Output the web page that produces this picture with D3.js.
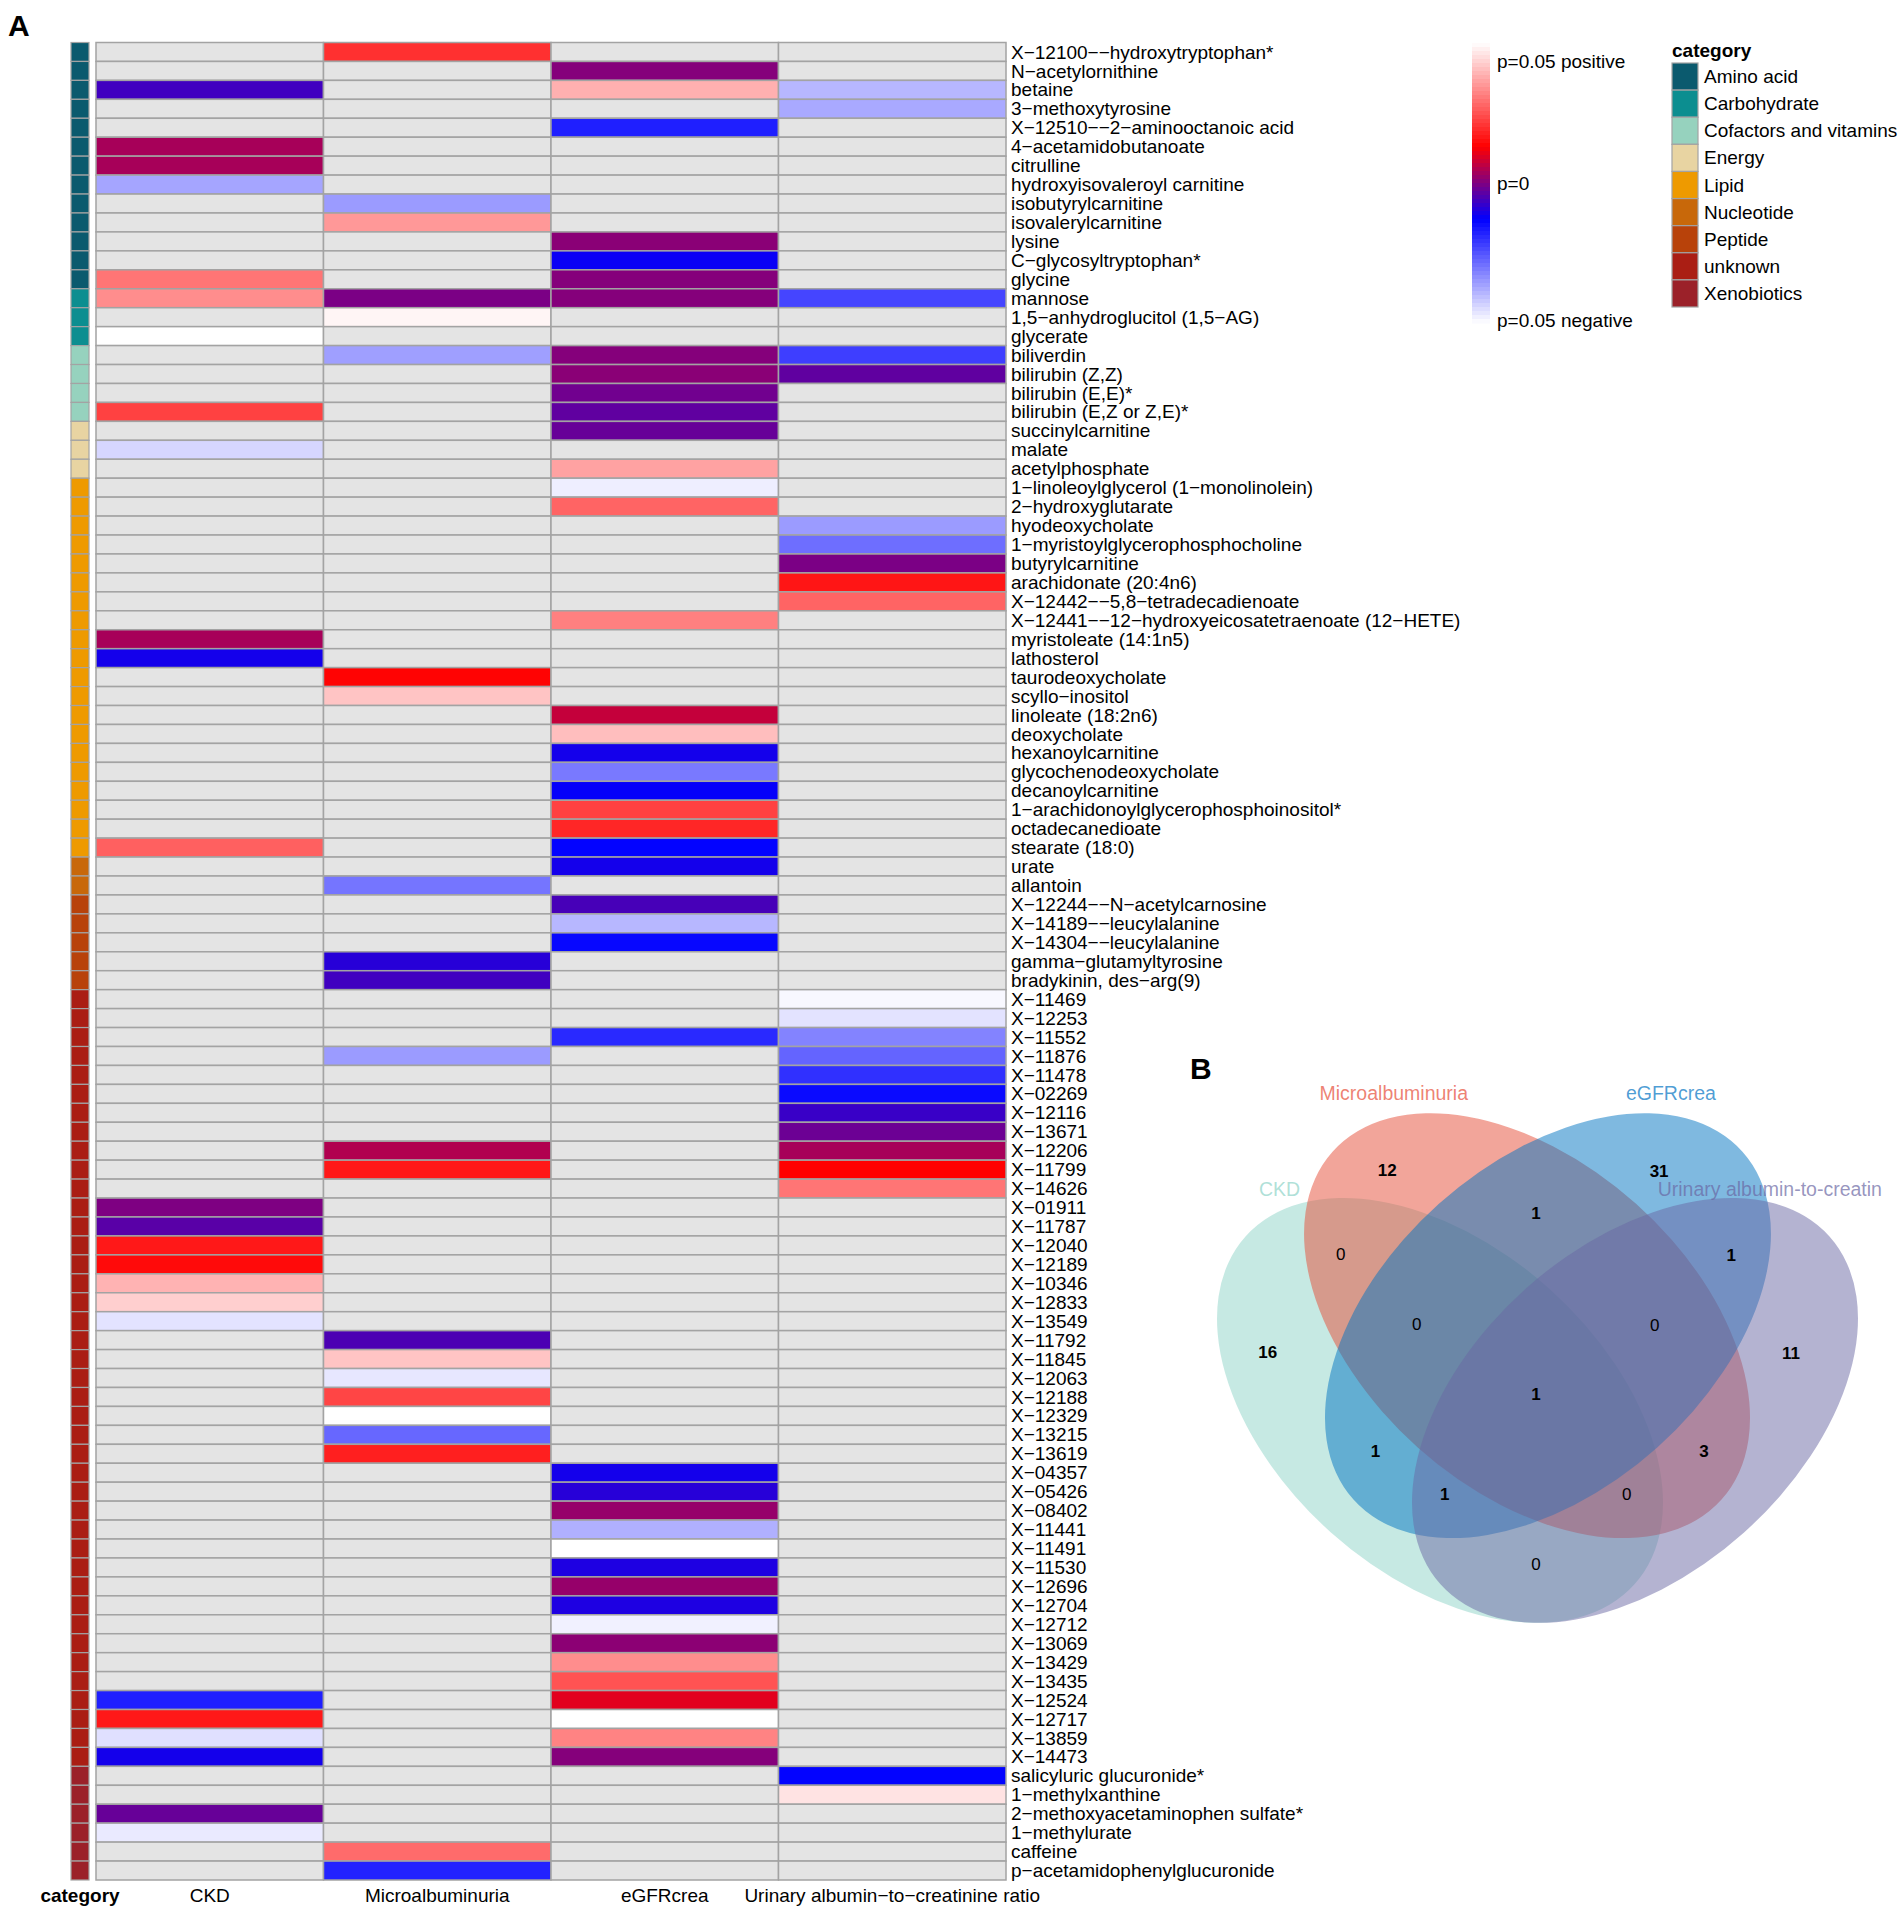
<!DOCTYPE html>
<html>
<head>
<meta charset="utf-8">
<script src="https://cdnjs.cloudflare.com/ajax/libs/d3/7.8.5/d3.min.js"></script>
<style>
  body { margin: 0; background: #fff; }
  text { font-family: "Liberation Sans", Arial, Helvetica, sans-serif; }
</style>
</head>
<body>
<div id="chart"></div>
<script>
const _ = null;

// heatmap rows (top to bottom)
const metabolites = [
  "X-12100--hydroxytryptophan*", "N-acetylornithine", "betaine", "3-methoxytyrosine",
  "X-12510--2-aminooctanoic acid", "4-acetamidobutanoate", "citrulline", "hydroxyisovaleroyl carnitine",
  "isobutyrylcarnitine", "isovalerylcarnitine", "lysine", "C-glycosyltryptophan*", "glycine",
  "mannose", "1,5-anhydroglucitol (1,5-AG)", "glycerate",
  "biliverdin", "bilirubin (Z,Z)", "bilirubin (E,E)*", "bilirubin (E,Z or Z,E)*",
  "succinylcarnitine", "malate", "acetylphosphate",
  "1-linoleoylglycerol (1-monolinolein)", "2-hydroxyglutarate", "hyodeoxycholate",
  "1-myristoylglycerophosphocholine", "butyrylcarnitine", "arachidonate (20:4n6)",
  "X-12442--5,8-tetradecadienoate", "X-12441--12-hydroxyeicosatetraenoate (12-HETE)",
  "myristoleate (14:1n5)", "lathosterol", "taurodeoxycholate", "scyllo-inositol",
  "linoleate (18:2n6)", "deoxycholate", "hexanoylcarnitine", "glycochenodeoxycholate",
  "decanoylcarnitine", "1-arachidonoylglycerophosphoinositol*", "octadecanedioate", "stearate (18:0)",
  "urate", "allantoin",
  "X-12244--N-acetylcarnosine", "X-14189--leucylalanine", "X-14304--leucylalanine",
  "gamma-glutamyltyrosine", "bradykinin, des-arg(9)",
  "X-11469", "X-12253", "X-11552", "X-11876", "X-11478", "X-02269", "X-12116", "X-13671",
  "X-12206", "X-11799", "X-14626", "X-01911", "X-11787", "X-12040", "X-12189", "X-10346",
  "X-12833", "X-13549", "X-11792", "X-11845", "X-12063", "X-12188", "X-12329", "X-13215",
  "X-13619", "X-04357", "X-05426", "X-08402", "X-11441", "X-11491", "X-11530", "X-12696",
  "X-12704", "X-12712", "X-13069", "X-13429", "X-13435", "X-12524", "X-12717", "X-13859",
  "X-14473",
  "salicyluric glucuronide*", "1-methylxanthine", "2-methoxyacetaminophen sulfate*",
  "1-methylurate", "caffeine", "p-acetamidophenylglucuronide"
];

const categories = ["Amino acid", "Carbohydrate", "Cofactors and vitamins", "Energy", "Lipid",
  "Nucleotide", "Peptide", "unknown", "Xenobiotics"];
const categoryColors = ["#0b5a6e", "#0c8e90", "#96d2be", "#e8d4a2", "#ee9a00",
  "#c8680a", "#b8420a", "#aa1e14", "#9b2129"];
// number of consecutive rows in each category
const categoryRows = [13, 3, 4, 3, 20, 2, 5, 41, 6];

const traits = ["CKD", "Microalbuminuria", "eGFRcrea", "Urinary albumin-to-creatinine ratio"];

// signed p scale: 1 = p=0.05 positive, 0 = p=0, -1 = p=0.05 negative; null = not significant
const ckd = [
  _, _, -.13, _, _, .08, .08, -.74, _, _,
  _, _, .60, .67, _, 1, _, _, _, .45,
  _, -.88, _, _, _, _, _, _, _, _,
  _, .08, -.22, _, _, _, _, _, _, _,
  _, _, .54, _, _, _, _, _, _, _,
  _, _, _, _, _, _, _, _, _, _,
  _, -.005, -.08, .33, .29, .78, .86, -.92, _, _,
  _, _, _, _, _, _, _, _, _, _,
  _, _, _, _, _, _, _, -.35, .33, -.91,
  -.22, _, _, -.05, -.94, _, _
];
const micro = [
  .40, _, _, _, _, _, _, _, -.71, .70,
  _, _, _, -.01, .97, _, -.72, _, _, _,
  _, _, _, _, _, _, _, _, _, _,
  _, _, _, .27, .83, _, _, _, _, _,
  _, _, _, _, -.60, _, _, _, -.18, -.13,
  _, _, _, -.71, _, _, _, _, .10, .33,
  _, _, _, _, _, _, _, _, -.105, .83,
  -.93, .46, 1, -.56, .35, _, _, _, _, _,
  _, _, _, _, _, _, _, _, _, _,
  _, _, _, _, _, .57, -.36
];
const egfr = [
  _, .01, .77, _, -.35, _, _, _, _, _,
  .02, -.24, .01, .01, _, _, .01, .02, -.03, -.065,
  -.05, _, .73, -.95, .55, _, _, _, _, _,
  .63, _, _, _, _, .14, .81, -.22, -.61, -.25,
  .45, .37, -.27, -.22, _, -.115, -.79, -.28, _, _,
  _, _, -.38, _, _, _, _, _, _, _,
  _, _, _, _, _, _, _, _, _, _,
  _, _, _, _, _, -.22, -.18, .045, -.77, 1,
  -.20, .045, -.20, -.96, .025, .67, .50, .20, 1, .64,
  .01, _, _, _, _, _, _
];
const uacr = [
  _, _, -.79, -.75, _, _, _, _, _, _,
  _, _, _, -.46, _, _, -.44, -.065, _, _,
  _, _, _, _, _, -.71, -.58, -.01, .32, .55,
  _, _, _, _, _, _, _, _, _, _,
  _, _, _, _, _, _, _, _, _, _,
  -.98, -.92, -.64, -.55, -.40, -.29, -.145, -.04, .08, .26,
  .60, _, _, _, _, _, _, _, _, _,
  _, _, _, _, _, _, _, _, _, _,
  _, _, _, _, _, _, _, _, _, _,
  _, -.27, .92, _, _, _, _
];

const legendLabels = ["p=0.05 positive", "p=0", "p=0.05 negative"];

// Venn diagram
const vennSets = ["CKD", "Microalbuminuria", "eGFRcrea", "Urinary albumin-to-creatin"];
const vennColors = ["#8dd3c7", "#e64b35", "#0073c2", "#6a67a3"];
const vennRegions = ["C", "M", "E", "U", "CM", "CE", "CU", "ME", "MU", "EU", "CME", "CMU", "CEU", "MEU", "CMEU"];
const vennCounts = [16, 12, 31, 11, 0, 1, 0, 1, 3, 1, 0, 0, 1, 0, 1];

// ---------- drawing ----------
const W = 1902, H = 1909;
const svg = d3.select("#chart").append("svg").attr("width", W).attr("height", H);

const minus = s => s.replace(/-/g, "\u2212");
const columns = [ckd, micro, egfr, uacr];

const x = d3.scaleBand().domain(traits).range([96, 1006]);
const y = d3.scaleBand().domain(d3.range(metabolites.length)).range([42.5, 1880]);
const color = d3.scaleLinear()
  .domain([-1, -0.26, 0, 0.26, 1])
  .range(["#ffffff", "#0000ff", "#800080", "#ff0000", "#ffffff"]);

// row category list built from the run lengths
const rowCat = [];
categoryRows.forEach((n, i) => { for (let k = 0; k < n; k++) rowCat.push(i); });

const cells = [];
traits.forEach((t, j) => {
  columns[j].forEach((v, i) => cells.push({ trait: t, row: i, v: v }));
});

svg.append("g").selectAll("rect").data(cells).join("rect")
  .attr("x", d => x(d.trait))
  .attr("y", d => y(d.row))
  .attr("width", x.bandwidth())
  .attr("height", y.bandwidth())
  .attr("fill", d => d.v === null ? "#e4e4e4" : color(d.v))
  .attr("stroke", "#a3a3a3")
  .attr("stroke-width", 1.5);

// category annotation strip
svg.append("g").selectAll("rect").data(rowCat).join("rect")
  .attr("x", 71)
  .attr("y", (d, i) => y(i))
  .attr("width", 18)
  .attr("height", y.bandwidth())
  .attr("fill", d => categoryColors[d])
  .attr("stroke", "#a3a3a3")
  .attr("stroke-width", 1.2);

// row labels
svg.append("g").selectAll("text").data(metabolites).join("text")
  .attr("x", 1011)
  .attr("y", (d, i) => y(i) + y.bandwidth() / 2 + 6.6)
  .attr("font-size", 19)
  .text(d => minus(d));

// column labels
svg.append("g").selectAll("text").data(traits).join("text")
  .attr("x", d => x(d) + x.bandwidth() / 2)
  .attr("y", 1902)
  .attr("text-anchor", "middle")
  .attr("font-size", 19)
  .text(d => minus(d));

svg.append("text").attr("x", 80).attr("y", 1902).attr("text-anchor", "middle")
  .attr("font-size", 19).attr("font-weight", "bold").text("category");

svg.append("text").attr("x", 8).attr("y", 36)
  .attr("font-size", 30).attr("font-weight", "bold").text("A");

// colour legend
const ly = d3.scaleLinear().domain([1, -1]).range([43, 323]);
const nBands = 70;
const bands = d3.range(nBands).map(i => 1 - 2 * (i + 0.5) / nBands);
svg.append("g").selectAll("rect").data(bands).join("rect")
  .attr("x", 1472)
  .attr("y", d => ly(d) - 280 / nBands / 2)
  .attr("width", 18)
  .attr("height", 280 / nBands + 0.5)
  .attr("fill", d => color(d));

const labelY = [68, 190, 327];
svg.append("g").selectAll("text").data(legendLabels).join("text")
  .attr("x", 1497)
  .attr("y", (d, i) => labelY[i])
  .attr("font-size", 19)
  .text(d => d);

// category legend
svg.append("text").attr("x", 1672).attr("y", 57)
  .attr("font-size", 19).attr("font-weight", "bold").text("category");
const cy = d3.scaleBand().domain(categories).range([63, 307]);
svg.append("g").selectAll("rect").data(categories).join("rect")
  .attr("x", 1672)
  .attr("y", d => cy(d))
  .attr("width", 26)
  .attr("height", cy.bandwidth())
  .attr("fill", (d, i) => categoryColors[i])
  .attr("stroke", "#a3a3a3")
  .attr("stroke-width", 1.2);
svg.append("g").selectAll("text").data(categories).join("text")
  .attr("x", 1704)
  .attr("y", d => cy(d) + cy.bandwidth() / 2 + 6.6)
  .attr("font-size", 19)
  .text(d => d);

// ---------- Venn ----------
svg.append("text").attr("x", 1190).attr("y", 1079)
  .attr("font-size", 30).attr("font-weight", "bold").text("B");

const ux = d3.scaleLinear().domain([0, 1]).range([1169, 1906]);
const uy = d3.scaleLinear().domain([0, 1]).range([1748, 1011]);

// ellipse layout in unit coordinates
const ellipses = [
  { cx: 0.3677, cy: 0.458, rot: 41.8 },
  { cx: 0.4858, cy: 0.573, rot: 41.8 },
  { cx: 0.5142, cy: 0.573, rot: -41.8 },
  { cx: 0.6323, cy: 0.458, rot: -41.8 }
];
svg.append("g").selectAll("ellipse").data(ellipses).join("ellipse")
  .attr("cx", 0).attr("cy", 0)
  .attr("rx", ux(0.354) - ux(0))
  .attr("ry", ux(0.222) - ux(0))
  .attr("transform", d => `translate(${ux(d.cx)},${uy(d.cy)}) rotate(${d.rot})`)
  .attr("fill", (d, i) => vennColors[i])
  .attr("fill-opacity", 0.5);

const setLabelPos = [
  { x: 0.150, y: 0.758, anchor: "middle" },
  { x: 0.305, y: 0.889, anchor: "middle" },
  { x: 0.681, y: 0.889, anchor: "middle" },
  { x: 0.663, y: 0.758, anchor: "start" }
];
svg.append("g").selectAll("text").data(vennSets).join("text")
  .attr("x", (d, i) => ux(setLabelPos[i].x))
  .attr("y", (d, i) => uy(setLabelPos[i].y) + 7)
  .attr("text-anchor", (d, i) => setLabelPos[i].anchor)
  .attr("font-size", 19.5)
  .attr("fill", (d, i) => vennColors[i])
  .attr("fill-opacity", 0.7)
  .text(d => d);

const regionPos = {
  C: [0.134, 0.537], M: [0.296, 0.784], E: [0.665, 0.783], U: [0.844, 0.536],
  CM: [0.233, 0.670], CE: [0.280, 0.403], CU: [0.498, 0.250], ME: [0.498, 0.726],
  MU: [0.726, 0.403], EU: [0.763, 0.669], CME: [0.336, 0.575], CMU: [0.621, 0.345],
  CEU: [0.374, 0.345], MEU: [0.659, 0.574], CMEU: [0.498, 0.480]
};
svg.append("g").selectAll("text").data(vennRegions).join("text")
  .attr("x", d => ux(regionPos[d][0]))
  .attr("y", d => uy(regionPos[d][1]) + 6)
  .attr("text-anchor", "middle")
  .attr("font-size", 17)
  .attr("font-weight", (d, i) => vennCounts[i] > 0 ? "bold" : "normal")
  .attr("fill", "#000")
  .text((d, i) => vennCounts[i]);
</script>
</body>
</html>
